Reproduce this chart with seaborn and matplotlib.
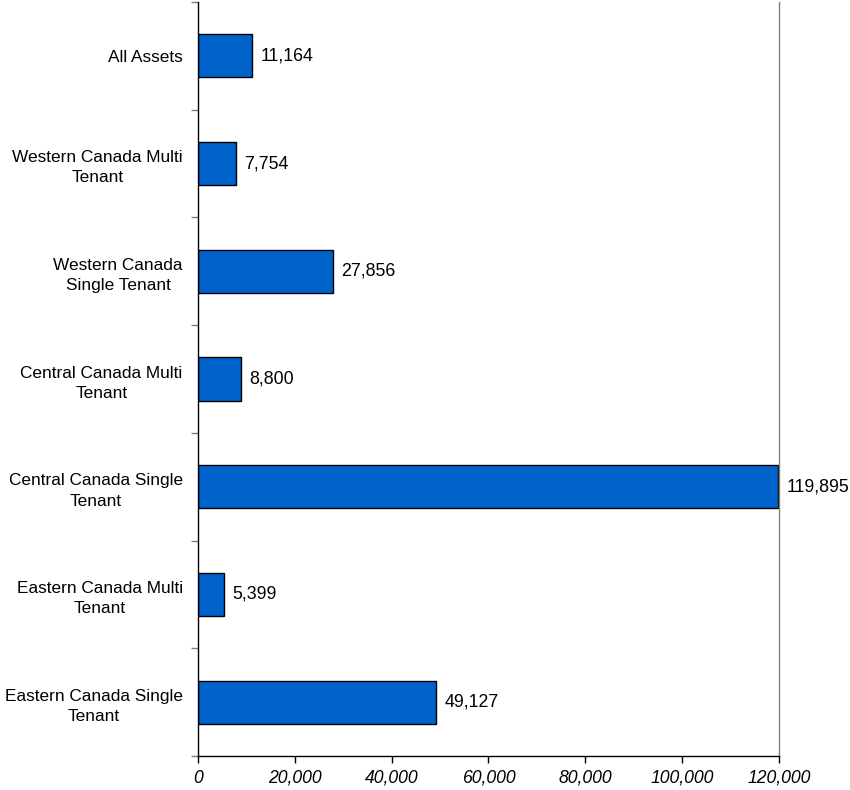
import matplotlib
matplotlib.use("Agg")
import matplotlib.pyplot as plt
import seaborn as sns
import pandas as pd
from matplotlib.ticker import FuncFormatter, FixedLocator

categories = [
    "All Assets",
    "Western Canada Multi\nTenant",
    "Western Canada\nSingle Tenant",
    "Central Canada Multi\nTenant",
    "Central Canada Single\nTenant",
    "Eastern Canada Multi\nTenant",
    "Eastern Canada Single\nTenant",
]
values = [11164, 7754, 27856, 8800, 119895, 5399, 49127]
x_ticks = [0, 20000, 40000, 60000, 80000, 100000, 120000]

sns.set_style("white")
plt.rcParams["font.family"] = ["Liberation Sans", "DejaVu Sans"]
plt.rcParams["text.color"] = "black"
plt.rcParams["xtick.color"] = "black"
plt.rcParams["ytick.color"] = "black"

df = pd.DataFrame({"cat": categories, "val": values})

fig = plt.figure(figsize=(8.5, 7.9), dpi=100)
ax = fig.add_axes([198 / 850, 1 - 756 / 790, (779 - 198) / 850, (756 - 2) / 790])

sns.barplot(data=df, y="cat", x="val", orient="h", color="#0063CB",
            saturation=1, width=0.4, edgecolor="black", linewidth=1.0, ax=ax)

ax.set_xlim(0, 120000)
ax.set_ylim(len(categories) - 0.5, -0.5)
ax.set_xlabel("")
ax.set_ylabel("")
ax.xaxis.set_major_locator(FixedLocator(x_ticks))
ax.xaxis.set_major_formatter(FuncFormatter(lambda v, p: f"{int(v):,}"))
for lab in ax.get_xticklabels():
    lab.set_fontstyle("italic")
    lab.set_fontsize(12.7)
    lab.set_color("black")

# y ticks at category boundaries, labels centered between
ax.set_yticks([i - 0.5 for i in range(len(categories) + 1)])
ax.set_yticklabels([])
ax.tick_params(axis="y", which="major", length=5, color="#808080", width=1, direction="out", left=True)
ax.tick_params(axis="x", which="major", length=5, color="black", width=1, direction="out", bottom=True, pad=5)
ax.set_yticks(range(len(categories)), minor=True)
ax.set_yticklabels(categories, minor=True, fontsize=12.4)
ax.tick_params(axis="y", which="minor", length=0, pad=11)
for lab in ax.get_yticklabels(minor=True):
    lab.set_multialignment("center")
    lab.set_linespacing(1.45)
    lab.set_color("black")

for s in ["left", "bottom"]:
    ax.spines[s].set_color("black")
    ax.spines[s].set_linewidth(1.0)
ax.spines["right"].set_color("#808080")
ax.spines["right"].set_linewidth(1.0)
ax.spines["top"].set_visible(False)

for i, v in enumerate(values):
    ax.annotate(f"{v:,}", xy=(v, i), xytext=(6, 0), textcoords="offset points",
                va="center", ha="left", fontsize=12.8, color="black",
                annotation_clip=False)

fig.savefig("out.png", dpi=100)
